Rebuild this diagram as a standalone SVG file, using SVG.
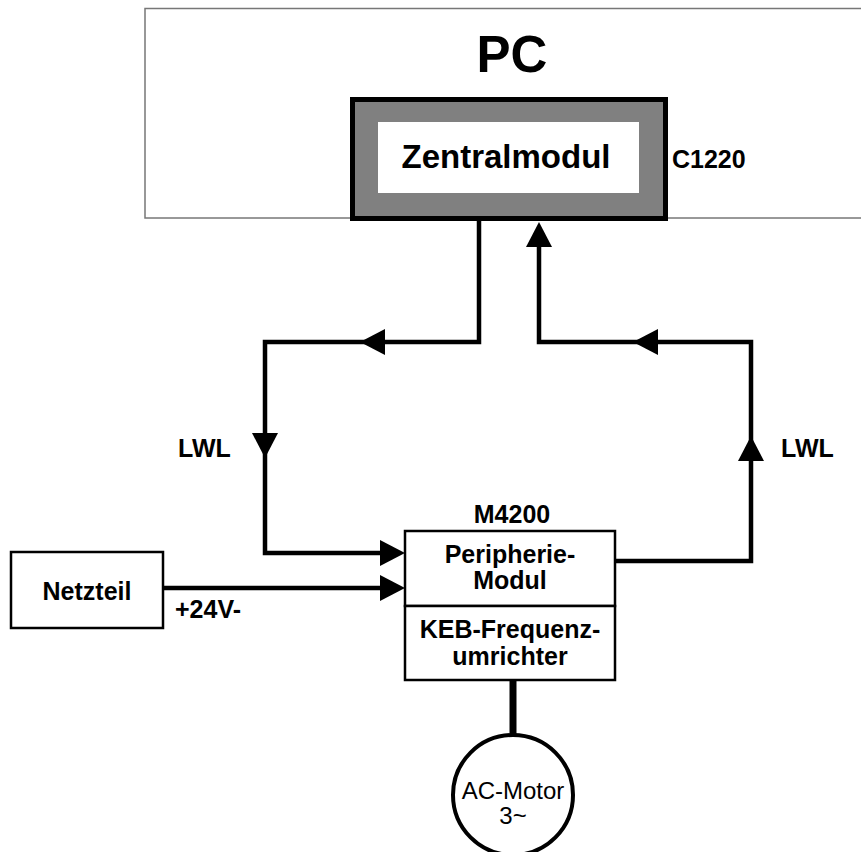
<svg xmlns="http://www.w3.org/2000/svg" xmlns:xlink="http://www.w3.org/1999/xlink" width="861" height="852" viewBox="0 0 861 852">
<style>
  text { font-family: "Liberation Sans", Arial, sans-serif; font-weight: bold; fill: #000; }
  .box { fill: #fff; stroke: #000; stroke-width: 2.5; }
  .wire { fill: none; stroke: #000; stroke-width: 4.5; stroke-linejoin: miter; }
  .head { fill: #000; }
  .c { text-anchor: middle; }
  .t25 { font-size: 25px; }
  .reg { font-weight: normal; font-size: 24px; }
</style>
<defs>
  <!-- arrowhead pointing right, tip at origin -->
  <polygon id="ah" points="0,0 -25,-13 -25,13"/>
</defs>
<rect width="861" height="852" fill="#fff"/>

<g id="pc">
  <rect x="145" y="8.5" width="730" height="209.5" fill="#fff" stroke="#777" stroke-width="1.5"/>
  <text x="512" y="72" class="c" font-size="51">PC</text>
</g>

<g id="zentralmodul">
  <rect x="352.5" y="99.5" width="313" height="119" fill="#808080" stroke="#000" stroke-width="5"/>
  <rect x="378" y="122" width="261" height="71" fill="#fff"/>
  <text x="506" y="168" class="c" font-size="33">Zentralmodul</text>
  <text x="672" y="168" class="t25">C1220</text>
</g>

<g id="connectors">
  <path class="wire" d="M479,221 V342 H265 V553 H385"/>
  <path class="wire" d="M615,561 H751 V342 H539 V245"/>
  <path class="wire" d="M163,588 H385"/>
  <line x1="513" y1="681" x2="513" y2="735" stroke="#000" stroke-width="7"/>
  <use xlink:href="#ah" class="head" transform="translate(360,342) rotate(180)"/>
  <use xlink:href="#ah" class="head" transform="translate(265,458) rotate(90)"/>
  <use xlink:href="#ah" class="head" transform="translate(405,553)"/>
  <use xlink:href="#ah" class="head" transform="translate(405,588)"/>
  <use xlink:href="#ah" class="head" transform="translate(633,342) rotate(180)"/>
  <use xlink:href="#ah" class="head" transform="translate(751,436) rotate(-90)"/>
  <use xlink:href="#ah" class="head" transform="translate(539,222) rotate(-90)"/>
  <text x="178" y="457" class="t25">LWL</text>
  <text x="781" y="457" class="t25">LWL</text>
  <text x="175" y="618" class="t25">+24V-</text>
</g>

<g id="netzteil">
  <rect class="box" x="11" y="552" width="152" height="76"/>
  <text x="87" y="600" class="c t25">Netzteil</text>
</g>

<g id="peripherie">
  <text x="512" y="523" class="c t25">M4200</text>
  <rect class="box" x="405" y="531" width="210" height="75"/>
  <text class="c t25"><tspan x="510" y="563">Peripherie-</tspan><tspan x="510" y="589">Modul</tspan></text>
</g>

<g id="frequenzumrichter">
  <rect class="box" x="405" y="606" width="210" height="74"/>
  <text class="c t25"><tspan x="510" y="638">KEB-Frequenz-</tspan><tspan x="510" y="665">umrichter</tspan></text>
</g>

<g id="motor">
  <circle cx="513" cy="795" r="60" fill="#fff" stroke="#000" stroke-width="4"/>
  <text class="c reg"><tspan x="513" y="799">AC-Motor</tspan><tspan x="513" y="824">3~</tspan></text>
</g>
</svg>
